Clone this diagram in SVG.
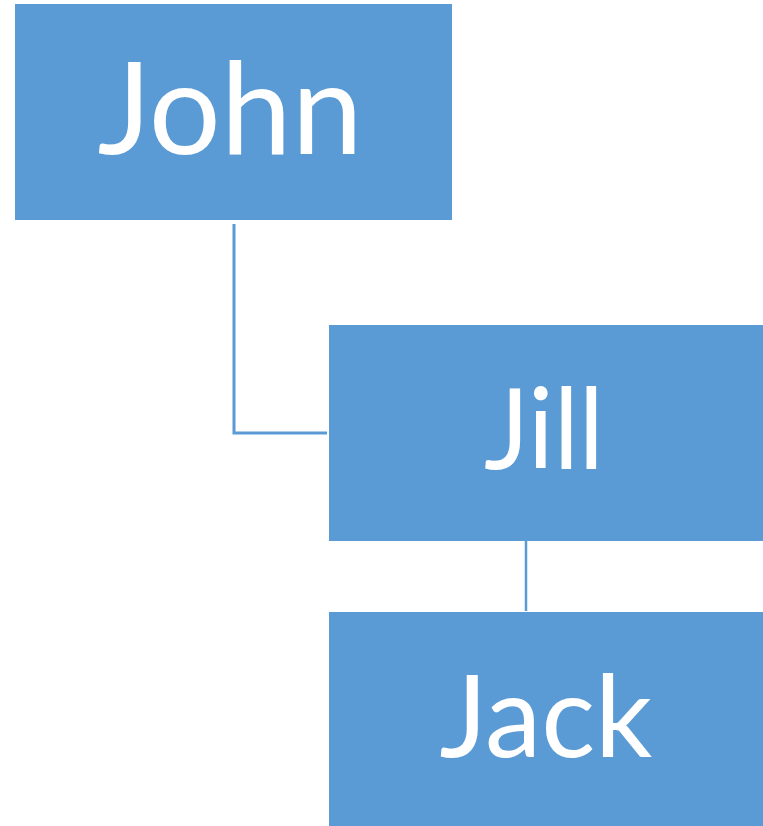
<svg xmlns="http://www.w3.org/2000/svg" width="763" height="826" viewBox="0 0 763 826">
<style>
.box{fill:#5B9BD5;}
.lbl{fill:#FFFFFF;font-family:"Lato","Open Sans",sans-serif;text-anchor:middle;}
.conn{fill:none;stroke:#5B9BD5;}
</style>
<rect width="763" height="826" fill="#FFFFFF"/>
<g id="connectors">
<polyline class="conn" stroke-width="3" points="234,224 234,433 327,433"/>
<line class="conn" stroke-width="2.5" x1="526" y1="541" x2="526" y2="611"/>
</g>
<g id="john">
<rect class="box" x="15" y="4" width="437" height="216"/>
<text class="lbl" x="230" y="154" font-size="128" textLength="265" lengthAdjust="spacingAndGlyphs">John</text>
</g>
<g id="jill">
<rect class="box" x="329" y="325" width="434" height="216"/>
<text class="lbl" x="544" y="469" font-size="113" textLength="120" lengthAdjust="spacingAndGlyphs">Jill</text>
</g>
<g id="jack">
<rect class="box" x="329" y="612" width="434" height="214"/>
<text class="lbl" x="546" y="757" font-size="114" textLength="213" lengthAdjust="spacingAndGlyphs">Jack</text>
</g>
</svg>
